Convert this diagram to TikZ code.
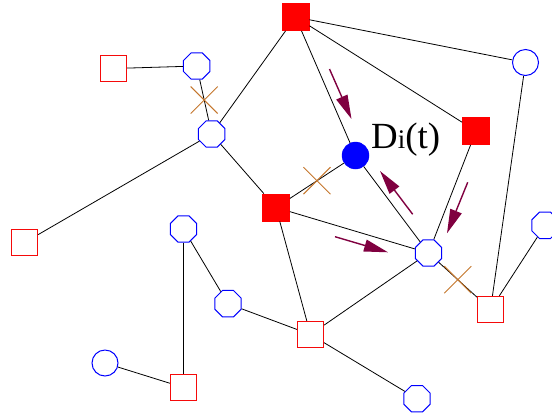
\documentclass[tikz,border=0pt]{standalone}
\usepackage{fontspec}
\setmainfont{Liberation Serif}
\usetikzlibrary{shapes.geometric,shapes.misc,arrows.meta}
\definecolor{ochre}{RGB}{196,118,44}
\definecolor{flowc}{RGB}{128,0,64}
\definecolor{framered}{RGB}{245,10,10}
\begin{document}
\begin{tikzpicture}[x=1bp,y=-1bp,
  link/.style={draw=black,line width=0.8bp},
  hub/.style={rectangle,draw=red,fill=red,minimum size=27bp,inner sep=0pt,line width=0.8bp},
  box/.style={rectangle,draw=framered,fill=white,minimum size=26bp,inner sep=0pt,line width=1.2bp},
  oct/.style={regular polygon,regular polygon sides=8,draw=blue,minimum size=28.6bp,inner sep=0pt,line width=1bp},
  ring/.style={circle,draw=blue,minimum size=26bp,inner sep=0pt,line width=1bp},
  dot/.style={circle,draw=blue,fill=blue,minimum size=27bp,inner sep=0pt},
  cut/.style={cross out,draw=ochre,minimum size=26bp,inner sep=0pt,line width=1bp},
  flow/.style={draw=flowc,line width=1.4bp,-{Triangle[length=24bp,width=12bp]}}]
\useasboundingbox (0,0) rectangle (552,415);

% hubs
\node[hub] (hubA) at (295.5,17) {};
\node[hub] (hubB) at (476,131) {};
\node[hub] (hubC) at (276,207.5) {};
% open squares
\node[box] (sqa) at (113.5,68.5) {};
\node[box] (sqb) at (24.5,242.5) {};
\node[box] (sqc) at (183.5,387.5) {};
\node[box] (sqd) at (310.5,334.5) {};
\node[box] (sqe) at (490.5,309.5) {};
% destination
\node[dot] (dest) at (355.5,155.5) {};
\node[anchor=base west,inner sep=0pt,font=\fontsize{37}{37}\selectfont] (lab) at (371,148)
  {D{\fontsize{27}{27}\selectfont i}(t)};
% circles and octagons
\node[ring] (ca) at (525.5,62.5) {};
\node[ring] (cb) at (105,363) {};
\node[oct] (oa) at (196.7,66) {};
\node[oct] (ob) at (211.7,134) {};
\node[oct] (oc) at (183.5,229) {};
\node[oct] (od) at (228,303.7) {};
\node[oct] (oe) at (428.5,253) {};
\node[oct] (of) at (545,225.3) {};
\node[oct] (og) at (417,398.7) {};

% links
\draw[link] (sqa) -- (oa);
\draw[link] (oa) -- node[cut] (xa) {} (ob);
\draw[link] (ob) -- (hubA);
\draw[link] (ob) -- (sqb);
\draw[link] (ob) -- (hubC);
\draw[link] (hubA) -- (dest);
\draw[link] (hubA) -- (hubB);
\draw[link] (hubA) -- (ca);
\draw[link] (hubC) -- node[cut] (xb) {} (dest);
\draw[link] (hubC) -- (oe);
\draw[link] (hubC) -- (sqd);
\draw[link] (dest) -- (oe);
\draw[link] (hubB) -- (oe);
\draw[link] (ca) -- (sqe);
\draw[link] (oe) -- node[cut] (xc) {} (sqe);
\draw[link] (sqe) -- (of);
\draw[link] (oe) -- (sqd);
\draw[link] (sqd) -- (od);
\draw[link] (od) -- (oc);
\draw[link] (oc) -- (sqc);
\draw[link] (sqc) -- (cb);
\draw[link] (sqd) -- (og);

% flow arrows
\coordinate (a1) at (329.5,69);  \coordinate (b1) at (351.5,119);
\coordinate (a2) at (412.7,214.3); \coordinate (b2) at (380,171);
\coordinate (a3) at (467.7,182.3); \coordinate (b3) at (447,233.3);
\coordinate (a4) at (335,236.7); \coordinate (b4) at (388,252.3);
\draw[flow] (a1) -- (b1);
\draw[flow] (a2) -- (b2);
\draw[flow] (a3) -- (b3);
\draw[flow] (a4) -- (b4);
\end{tikzpicture}
\end{document}
